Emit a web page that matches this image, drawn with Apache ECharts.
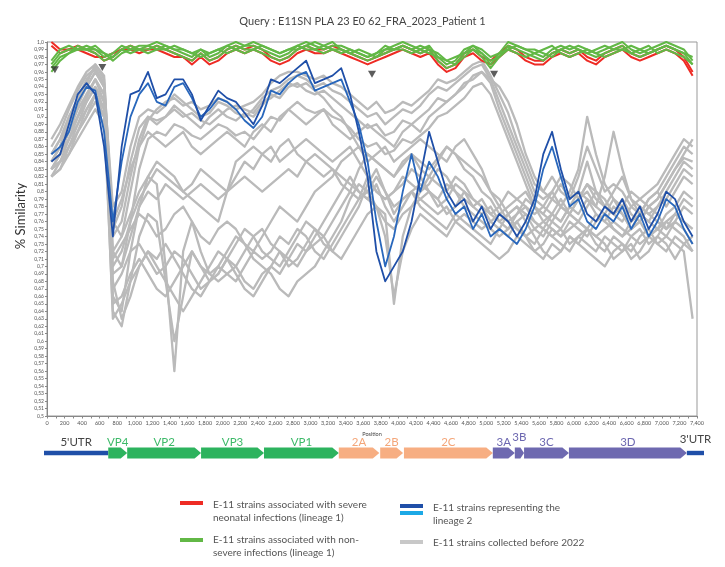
<!DOCTYPE html>
<html><head><meta charset="utf-8">
<script src="https://cdn.jsdelivr.net/npm/echarts@6/dist/echarts.min.js"></script>
<style>html,body{margin:0;padding:0;background:#fff}#c{width:725px;height:567px}</style>
</head><body><div id="c"></div>
<script>
// ---------- DATA ----------
const titleText = "Query : E11SN PLA 23 E0 62_FRA_2023_Patient 1";
const positions = [50,150,250,350,450,550,650,750,850,950,1050,1150,1250,1350,1450,1550,1650,1750,1850,1950,2050,2150,2250,2350,2450,2550,2650,2750,2850,2950,3050,3150,3250,3350,3450,3550,3650,3750,3850,3950,4050,4150,4250,4350,4450,4550,4650,4750,4850,4950,5050,5150,5250,5350,5450,5550,5650,5750,5850,5950,6050,6150,6250,6350,6450,6550,6650,6750,6850,6950,7050,7150,7250,7350];

const gray1 = [0.86,0.88,0.91,0.935,0.955,0.965,0.94,0.78,0.80,0.86,
 0.90,0.91,0.905,0.915,0.93,0.92,0.91,0.90,0.905,0.92,
 0.915,0.905,0.90,0.91,0.925,0.935,0.94,0.95,0.955,0.95,
 0.94,0.945,0.935,0.93,0.92,0.91,0.90,0.905,0.89,0.90,
 0.91,0.905,0.915,0.93,0.94,0.935,0.945,0.955,0.965,0.97,
 0.95,0.92,0.89,0.86,0.83,0.80,0.79,0.80,0.78,0.77,
 0.79,0.80,0.78,0.77,0.79,0.78,0.76,0.77,0.79,0.80,
 0.82,0.84,0.86,0.85];
const gray2 = [0.84,0.86,0.90,0.92,0.945,0.97,0.955,0.74,0.76,0.82,
 0.87,0.90,0.895,0.90,0.915,0.905,0.895,0.885,0.90,0.91,
 0.90,0.895,0.905,0.90,0.915,0.93,0.925,0.94,0.945,0.935,
 0.93,0.935,0.925,0.915,0.905,0.895,0.885,0.89,0.875,0.88,
 0.895,0.89,0.90,0.91,0.925,0.92,0.93,0.94,0.955,0.96,
 0.945,0.91,0.88,0.85,0.82,0.79,0.78,0.77,0.76,0.78,
 0.77,0.79,0.77,0.76,0.78,0.77,0.75,0.76,0.78,0.79,
 0.81,0.83,0.845,0.84];
const gray3 = [0.87,0.89,0.915,0.94,0.96,0.97,0.95,0.76,0.74,0.80,
 0.86,0.895,0.91,0.92,0.925,0.915,0.92,0.91,0.915,0.925,
 0.92,0.91,0.915,0.92,0.93,0.945,0.955,0.96,0.96,0.955,
 0.95,0.955,0.945,0.94,0.93,0.92,0.91,0.92,0.905,0.91,
 0.92,0.915,0.925,0.935,0.95,0.945,0.95,0.96,0.97,0.975,
 0.955,0.93,0.905,0.87,0.84,0.81,0.80,0.82,0.80,0.79,
 0.82,0.86,0.83,0.80,0.81,0.80,0.78,0.79,0.80,0.81,
 0.83,0.85,0.87,0.86];
const gray4 = [0.83,0.85,0.88,0.90,0.93,0.95,0.93,0.72,0.70,0.76,
 0.83,0.87,0.88,0.875,0.89,0.885,0.875,0.87,0.88,0.89,
 0.885,0.875,0.88,0.87,0.885,0.90,0.895,0.91,0.92,0.91,
 0.905,0.91,0.90,0.895,0.885,0.87,0.86,0.865,0.85,0.855,
 0.87,0.865,0.875,0.885,0.90,0.905,0.915,0.925,0.94,0.945,
 0.93,0.90,0.87,0.84,0.81,0.78,0.77,0.79,0.81,0.79,
 0.80,0.84,0.80,0.78,0.80,0.82,0.79,0.78,0.77,0.78,
 0.80,0.82,0.84,0.83];
const gray5 = [0.85,0.87,0.90,0.925,0.95,0.965,0.945,0.75,0.78,0.84,
 0.885,0.90,0.89,0.90,0.91,0.90,0.905,0.895,0.89,0.90,
 0.91,0.915,0.91,0.905,0.92,0.925,0.935,0.945,0.94,0.945,
 0.935,0.925,0.91,0.90,0.88,0.86,0.85,0.84,0.83,0.82,
 0.835,0.85,0.84,0.83,0.845,0.86,0.85,0.84,0.83,0.82,
 0.80,0.79,0.77,0.75,0.74,0.75,0.76,0.75,0.74,0.75,
 0.76,0.75,0.74,0.75,0.76,0.75,0.74,0.73,0.74,0.75,
 0.76,0.75,0.74,0.72];
const gray6 = [0.84,0.86,0.89,0.915,0.94,0.96,0.94,0.72,0.74,0.77,
 0.80,0.82,0.84,0.83,0.82,0.80,0.81,0.83,0.82,0.81,
 0.80,0.82,0.84,0.83,0.85,0.86,0.84,0.85,0.86,0.87,
 0.86,0.85,0.84,0.85,0.86,0.84,0.82,0.80,0.79,0.80,
 0.82,0.81,0.80,0.81,0.83,0.82,0.80,0.79,0.78,0.79,
 0.77,0.76,0.77,0.78,0.77,0.76,0.75,0.74,0.75,0.73,
 0.74,0.75,0.73,0.72,0.74,0.73,0.72,0.74,0.75,0.73,
 0.74,0.76,0.75,0.73];
const gray7 = [0.83,0.84,0.87,0.90,0.925,0.95,0.92,0.70,0.72,0.76,
 0.79,0.81,0.83,0.82,0.81,0.80,0.79,0.78,0.77,0.76,
 0.80,0.84,0.85,0.86,0.85,0.84,0.86,0.87,0.85,0.84,
 0.83,0.82,0.83,0.82,0.81,0.80,0.79,0.78,0.76,0.75,
 0.77,0.78,0.79,0.80,0.79,0.77,0.78,0.80,0.79,0.78,
 0.76,0.75,0.74,0.76,0.77,0.75,0.74,0.76,0.78,0.80,
 0.83,0.90,0.85,0.81,0.79,0.77,0.75,0.76,0.74,0.75,
 0.77,0.78,0.80,0.79];
const gray8 = [0.82,0.83,0.86,0.88,0.90,0.92,0.90,0.69,0.70,0.74,
 0.78,0.80,0.79,0.81,0.80,0.79,0.80,0.81,0.80,0.79,
 0.80,0.81,0.82,0.81,0.80,0.81,0.82,0.83,0.82,0.84,
 0.85,0.84,0.83,0.81,0.80,0.79,0.80,0.82,0.80,0.78,
 0.79,0.80,0.79,0.78,0.77,0.78,0.76,0.77,0.76,0.75,
 0.76,0.77,0.78,0.79,0.80,0.78,0.76,0.77,0.76,0.78,
 0.80,0.79,0.78,0.82,0.88,0.83,0.79,0.77,0.76,0.75,
 0.74,0.73,0.72,0.63];
const gray9 = [0.83,0.85,0.87,0.89,0.92,0.94,0.91,0.66,0.64,0.72,
 0.78,0.82,0.81,0.70,0.56,0.72,0.76,0.72,0.69,0.68,
 0.69,0.70,0.68,0.67,0.69,0.70,0.72,0.71,0.70,0.72,
 0.73,0.74,0.72,0.71,0.73,0.75,0.77,0.78,0.74,0.66,
 0.72,0.75,0.77,0.76,0.75,0.74,0.76,0.75,0.74,0.73,
 0.72,0.71,0.72,0.74,0.73,0.72,0.71,0.73,0.72,0.74,
 0.73,0.72,0.71,0.70,0.72,0.73,0.71,0.72,0.74,0.73,
 0.72,0.74,0.73,0.72];
const gray10 = [0.82,0.84,0.86,0.88,0.90,0.93,0.90,0.64,0.62,0.68,
 0.74,0.77,0.76,0.68,0.60,0.66,0.72,0.70,0.68,0.69,
 0.71,0.69,0.67,0.66,0.68,0.70,0.69,0.71,0.73,0.72,
 0.74,0.76,0.78,0.80,0.82,0.80,0.79,0.81,0.78,0.76,
 0.78,0.80,0.81,0.80,0.78,0.79,0.81,0.80,0.78,0.77,
 0.78,0.76,0.75,0.77,0.78,0.76,0.75,0.77,0.79,0.77,
 0.76,0.78,0.80,0.79,0.77,0.76,0.78,0.77,0.79,0.80,
 0.78,0.80,0.82,0.81];
const gray11 = [0.84,0.86,0.88,0.91,0.93,0.95,0.93,0.68,0.63,0.66,
 0.70,0.72,0.70,0.68,0.66,0.64,0.66,0.68,0.70,0.72,
 0.71,0.70,0.72,0.74,0.75,0.73,0.72,0.70,0.71,0.73,
 0.75,0.74,0.76,0.78,0.80,0.83,0.85,0.84,0.83,0.82,
 0.84,0.85,0.83,0.82,0.84,0.86,0.85,0.83,0.82,0.80,
 0.79,0.77,0.76,0.75,0.74,0.73,0.75,0.74,0.73,0.72,
 0.74,0.73,0.72,0.74,0.73,0.72,0.74,0.75,0.73,0.74,
 0.76,0.77,0.76,0.75];
const gray12 = [0.85,0.87,0.90,0.92,0.94,0.96,0.94,0.65,0.66,0.69,
 0.71,0.69,0.67,0.66,0.68,0.70,0.72,0.70,0.69,0.70,
 0.72,0.74,0.73,0.71,0.70,0.69,0.67,0.66,0.68,0.69,
 0.70,0.72,0.74,0.76,0.79,0.81,0.80,0.78,0.77,0.65,
 0.74,0.78,0.80,0.82,0.81,0.80,0.82,0.81,0.79,0.78,
 0.77,0.78,0.80,0.79,0.78,0.77,0.78,0.80,0.82,0.81,
 0.79,0.81,0.80,0.78,0.77,0.79,0.77,0.76,0.78,0.77,
 0.75,0.77,0.79,0.78];
const gray13 = [0.83,0.84,0.86,0.89,0.91,0.93,0.91,0.67,0.69,0.72,
 0.73,0.71,0.69,0.70,0.72,0.71,0.69,0.67,0.68,0.70,
 0.69,0.68,0.70,0.72,0.71,0.72,0.74,0.73,0.75,0.74,
 0.72,0.71,0.73,0.75,0.77,0.79,0.82,0.80,0.79,0.80,
 0.81,0.83,0.82,0.80,0.79,0.81,0.80,0.78,0.77,0.76,
 0.75,0.74,0.75,0.76,0.74,0.72,0.73,0.75,0.74,0.76,
 0.75,0.74,0.76,0.77,0.75,0.74,0.76,0.78,0.77,0.76,
 0.75,0.76,0.78,0.77];
const gray14 = [0.84,0.85,0.87,0.90,0.92,0.94,0.92,0.63,0.65,0.68,
 0.70,0.72,0.71,0.73,0.71,0.69,0.67,0.66,0.68,0.69,
 0.71,0.73,0.75,0.74,0.72,0.71,0.70,0.72,0.74,0.76,
 0.75,0.73,0.72,0.74,0.76,0.78,0.81,0.83,0.80,0.77,
 0.79,0.80,0.78,0.77,0.76,0.75,0.77,0.76,0.75,0.74,
 0.73,0.75,0.77,0.78,0.76,0.74,0.72,0.71,0.72,0.74,
 0.73,0.75,0.74,0.73,0.71,0.72,0.73,0.71,0.72,0.74,
 0.73,0.71,0.73,0.74];
const gray15 = [0.82,0.83,0.85,0.87,0.89,0.91,0.89,0.76,0.79,0.83,
 0.86,0.88,0.87,0.86,0.87,0.88,0.86,0.85,0.86,0.87,
 0.88,0.87,0.86,0.88,0.89,0.88,0.90,0.91,0.90,0.89,
 0.90,0.91,0.89,0.88,0.87,0.88,0.89,0.88,0.87,0.86,
 0.88,0.89,0.88,0.90,0.91,0.92,0.93,0.945,0.95,0.96,
 0.95,0.94,0.92,0.89,0.85,0.82,0.80,0.79,0.78,0.77,
 0.79,0.81,0.79,0.78,0.77,0.78,0.80,0.79,0.78,0.79,
 0.81,0.83,0.85,0.87];
const gray16 = [0.83,0.84,0.85,0.88,0.91,0.93,0.90,0.71,0.73,0.75,
 0.77,0.76,0.74,0.75,0.77,0.78,0.76,0.74,0.73,0.75,
 0.76,0.75,0.73,0.72,0.74,0.76,0.78,0.77,0.76,0.78,
 0.80,0.81,0.82,0.84,0.85,0.86,0.84,0.85,0.86,0.84,
 0.85,0.86,0.87,0.86,0.85,0.84,0.86,0.87,0.85,0.83,
 0.80,0.78,0.76,0.77,0.79,0.78,0.77,0.76,0.75,0.77,
 0.76,0.75,0.77,0.76,0.75,0.74,0.75,0.77,0.76,0.78,
 0.79,0.81,0.83,0.82];

const blue1 = [0.84,0.85,0.89,0.93,0.945,0.93,0.86,0.74,0.86,0.93,
 0.935,0.96,0.925,0.93,0.95,0.95,0.93,0.895,0.915,0.935,
 0.925,0.92,0.905,0.89,0.915,0.95,0.945,0.955,0.965,0.975,
 0.945,0.95,0.955,0.965,0.93,0.88,0.82,0.72,0.68,0.70,
 0.72,0.76,0.82,0.88,0.84,0.80,0.78,0.79,0.76,0.78,
 0.75,0.77,0.76,0.74,0.76,0.79,0.85,0.88,0.83,0.79,
 0.80,0.77,0.76,0.78,0.77,0.79,0.76,0.78,0.75,0.77,
 0.80,0.79,0.76,0.74];
const blue2 = [0.85,0.86,0.88,0.92,0.94,0.935,0.88,0.76,0.84,0.90,
 0.93,0.945,0.92,0.915,0.94,0.945,0.925,0.90,0.91,0.925,
 0.92,0.91,0.895,0.885,0.90,0.935,0.93,0.945,0.955,0.96,
 0.935,0.94,0.945,0.95,0.92,0.89,0.84,0.76,0.70,0.74,
 0.80,0.85,0.80,0.84,0.82,0.79,0.77,0.78,0.75,0.77,
 0.74,0.75,0.74,0.73,0.75,0.78,0.83,0.86,0.82,0.78,
 0.79,0.76,0.75,0.77,0.76,0.78,0.75,0.77,0.74,0.76,
 0.79,0.78,0.75,0.73];

const red1 = [1.0,0.99,0.99,0.995,0.99,0.985,0.975,0.98,0.99,0.995,
 0.99,0.99,0.995,0.99,0.985,0.98,0.975,0.985,0.975,0.98,
 0.99,0.995,0.99,0.995,0.99,0.98,0.975,0.98,0.99,0.995,
 0.99,0.99,0.995,0.99,0.985,0.98,0.975,0.98,0.985,0.99,
 0.995,0.99,0.985,0.99,0.975,0.965,0.97,0.985,0.99,0.98,
 0.975,0.985,0.995,0.99,0.98,0.975,0.975,0.985,0.99,0.985,
 0.99,0.98,0.975,0.985,0.99,0.995,0.985,0.98,0.985,0.99,
 0.995,0.99,0.98,0.96];
const red2 = [0.995,0.985,0.99,0.99,0.985,0.98,0.98,0.985,0.99,0.99,
 0.985,0.99,0.99,0.985,0.98,0.98,0.97,0.98,0.97,0.975,
 0.985,0.99,0.985,0.99,0.985,0.975,0.97,0.975,0.985,0.99,
 0.985,0.985,0.99,0.985,0.98,0.975,0.97,0.975,0.98,0.985,
 0.99,0.985,0.98,0.985,0.97,0.96,0.965,0.98,0.985,0.975,
 0.97,0.98,0.99,0.985,0.975,0.97,0.97,0.98,0.985,0.98,
 0.985,0.975,0.97,0.98,0.985,0.99,0.98,0.975,0.98,0.985,
 0.99,0.985,0.975,0.955];

const green1 = [0.97,0.985,0.99,0.99,0.995,0.99,0.98,0.985,0.995,0.99,
 0.99,0.995,1.0,0.995,0.99,0.985,0.98,0.99,0.98,0.985,
 0.995,1.0,0.995,0.995,0.99,0.985,0.98,0.985,0.995,1.0,
 0.995,0.99,0.995,0.995,0.99,0.985,0.98,0.985,0.99,0.995,
 1.0,0.995,0.99,0.995,0.98,0.97,0.975,0.99,0.995,0.985,
 0.97,0.985,1.0,0.995,0.99,0.985,0.98,0.99,0.995,0.99,
 0.995,0.99,0.985,0.99,0.995,1.0,0.99,0.985,0.99,0.995,
 1.0,0.995,0.99,0.975];
const green2 = [0.965,0.98,0.985,0.99,0.99,0.985,0.975,0.98,0.99,0.995,
 0.99,0.99,0.995,0.99,0.985,0.98,0.975,0.985,0.975,0.98,
 0.99,0.995,0.99,0.99,0.985,0.98,0.975,0.98,0.99,0.995,
 0.99,0.985,0.99,0.99,0.985,0.98,0.975,0.98,0.985,0.99,
 0.995,0.99,0.985,0.99,0.975,0.965,0.97,0.985,0.99,0.98,
 0.965,0.98,0.995,0.99,0.985,0.98,0.975,0.985,0.99,0.985,
 0.99,0.985,0.98,0.985,0.99,0.995,0.985,0.98,0.985,0.99,
 0.995,0.99,0.985,0.97];
const green3 = [0.96,0.975,0.985,0.995,0.99,0.99,0.985,0.975,0.985,0.99,
 0.995,0.995,0.99,0.99,0.995,0.99,0.985,0.98,0.985,0.99,
 0.985,0.99,0.995,1.0,0.995,0.99,0.985,0.99,0.995,0.99,
 0.99,0.995,1.0,0.99,0.985,0.99,0.985,0.98,0.99,0.99,
 0.995,0.99,0.995,0.99,0.985,0.975,0.97,0.98,0.99,0.985,
 0.975,0.98,0.99,0.995,0.99,0.99,0.985,0.98,0.99,0.995,
 0.99,0.985,0.99,0.995,0.99,0.99,0.995,0.99,0.985,0.99,
 0.995,0.99,0.985,0.98];
const green4 = [0.975,0.99,0.995,0.99,0.99,0.995,0.985,0.98,0.99,0.985,
 0.99,0.985,0.99,0.995,0.99,0.99,0.985,0.99,0.985,0.99,
 0.995,0.99,0.985,0.99,0.995,0.99,0.985,0.99,0.99,0.995,
 1.0,0.995,0.99,0.985,0.99,0.985,0.98,0.985,0.995,0.99,
 0.99,0.985,0.99,0.985,0.98,0.975,0.98,0.985,0.995,0.99,
 0.98,0.985,0.99,0.985,0.98,0.985,0.99,0.995,0.985,0.98,
 0.985,0.99,0.985,0.98,0.985,0.99,0.985,0.99,0.995,0.985,
 0.99,0.985,0.98,0.97];

// breakpoint markers (black triangles)
const markerPos = [90, 630, 3700, 5090];
const markerVal = [0.963, 0.966, 0.957, 0.957];

// genome map
const geneNames  = ["5'UTR","VP4","VP2","VP3","VP1","2A","2B","2C","3A","3B","3C","3D","3'UTR"];
const geneStart  = [0,730,945,1785,2500,3350,3820,4090,5100,5350,5455,5965,7305];
const geneEnd    = [730,945,1785,2500,3350,3810,4080,5100,5350,5455,5965,7305,7500];
const geneRegion = ["UTR","P1","P1","P1","P1","P2","P2","P2","P3","P3","P3","P3","UTR"];

// legend
const legendTexts = [
  "E-11 strains associated with severe\nneonatal infections (lineage 1)",
  "E-11 strains associated with non-\nsevere infections (lineage 1)",
  "E-11 strains representing the\nlineage 2",
  "E-11 strains collected before 2022"
];

// ---------- CHART ----------
const FONT = 'Lato';
const C_GRAY = '#BABABA', C_RED = '#EE2B24', C_GREEN = '#62B846', C_BLUE = '#1F4FA8', C_BLUE2 = '#2867BC', C_LBLUE = '#1CA9E6';
const regionFill  = {P1:'#2DB35E', P2:'#F7AE82', P3:'#6E69B0', UTR:'#1F4FA8'};
const regionLabel = {P1:'#3DBA69', P2:'#F4A679', P3:'#6C67B0', UTR:'#444'};
const labelDy = {"3B":-16, "3'UTR":-14};

function pairs(vals){ return positions.map((p,i)=>[p, vals[i]]); }
function lineSeries(name, vals, color, width){
  return {type:'line', name, data:pairs(vals), showSymbol:false, symbol:'none', silent:true,
    lineStyle:{color, width, join:'round'}, itemStyle:{color}, xAxisIndex:0, yAxisIndex:0, z:2};
}
const grays = [gray1,gray2,gray3,gray4,gray5,gray6,gray7,gray8,gray9,gray10,gray11,gray12,gray13,gray14,gray15,gray16];
const series = [];
grays.forEach((g,i)=>series.push(lineSeries('gray'+(i+1), g, C_GRAY, 2.3)));
series.push(lineSeries('blue2', blue2, C_BLUE2, 1.8));
series.push(lineSeries('blue1', blue1, C_BLUE, 1.8));
series.push(lineSeries('red2', red2, C_RED, 2));
series.push(lineSeries('red1', red1, C_RED, 2));
[green1,green2,green3,green4].forEach((g,i)=>series.push(lineSeries('green'+(i+1), g, C_GREEN, 2)));
series.push({type:'scatter', data:markerPos.map((p,i)=>[p, markerVal[i]]), symbol:'triangle', symbolRotate:180,
  symbolSize:[8,7], itemStyle:{color:'#333'}, z:5, silent:true});

series.push({type:'custom', xAxisIndex:1, yAxisIndex:1, silent:true,
  data: geneNames.map((n,i)=>[geneStart[i], geneEnd[i]]),
  renderItem(params, api){
    const i = params.dataIndex;
    const s = api.coord([api.value(0), 0.5]);
    const e = api.coord([api.value(1), 0.5]);
    const reg = geneRegion[i], name = geneNames[i];
    const cy = s[1];
    const ch = [];
    if (reg === 'UTR') {
      ch.push({type:'rect', shape:{x:s[0], y:cy-2.2, width:e[0]-s[0], height:4.4}, style:{fill:regionFill.UTR}});
    } else {
      const w = e[0]-s[0], tip = Math.min(6.5, w*0.4), h = 5.5;
      ch.push({type:'polygon', shape:{points:[[s[0],cy-h],[e[0]-tip,cy-h],[e[0],cy],[e[0]-tip,cy+h],[s[0],cy+h]]},
        style:{fill:regionFill[reg]}});
    }
    const dy = labelDy[name] !== undefined ? labelDy[name] : -11;
    ch.push({type:'text', x:(s[0]+e[0])/2, y:cy+dy, style:{text:name, fill:regionLabel[reg],
      font:'11.5px '+FONT, textAlign:'center', textVerticalAlign:'middle'}});
    return {type:'group', children:ch};
  }
});

function yFmt(v){ let s = (Math.round(v*100)/100).toString(); if (s.indexOf('.')<0) s += '.0'; return s.replace('.', ','); }
function xFmt(v){ return String(v).replace(/\B(?=(\d{3})+(?!\d))/g, ','); }

const legendG = [];
const swatch = (x,y,c)=>({type:'rect', shape:{x, y, width:23, height:4}, style:{fill:c}});
const ltext = (x,y,t,lh)=>({type:'text', x, y, style:{text:t, fill:'#555', font:'10px '+FONT, lineHeight:lh, textVerticalAlign:'top'}});
legendG.push(swatch(180,501,C_RED), ltext(213,499,legendTexts[0],12.5));
legendG.push(swatch(180,538,C_GREEN), ltext(213,534,legendTexts[1],12.5));
legendG.push(swatch(400,504,C_BLUE), swatch(400,511,C_LBLUE), ltext(433,501,legendTexts[2],13.5));
legendG.push(swatch(400,540,'#C8C8C8'), ltext(433,536,legendTexts[3],13));
legendG.push({type:'text', x:21, y:216, rotation:Math.PI/2, style:{text:'% Similarity', fill:'#333', font:'13px '+FONT,
  textAlign:'center', textVerticalAlign:'middle'}});

const option = {
  animation:false,
  backgroundColor:'#fff',
  title:{text:titleText, left:'center', top:11, textStyle:{fontFamily:FONT, fontSize:11, fontWeight:'normal', color:'#444'}},
  grid:[
    {left:47, right:28, top:42, bottom:151, show:true, borderColor:'#999', borderWidth:1},
    {left:44, right:21, top:446, height:14}
  ],
  xAxis:[
    {type:'value', gridIndex:0, min:0, max:7400, interval:200,
     name:'Position', nameLocation:'middle', nameGap:12, nameTextStyle:{fontFamily:FONT, fontSize:5.5, color:'#444'},
     axisLine:{lineStyle:{color:'#888'}}, axisTick:{length:2.5, lineStyle:{color:'#888'}},
     minorTick:{show:true, splitNumber:2, length:2.5, lineStyle:{color:'#888'}},
     splitLine:{show:false}, minorSplitLine:{show:false},
     axisLabel:{fontFamily:FONT, fontSize:5.5, color:'#555', margin:4, formatter:xFmt}},
    {type:'value', gridIndex:1, min:0, max:7500, show:false}
  ],
  yAxis:[
    {type:'value', gridIndex:0, min:0.5, max:1.0, interval:0.01,
     axisLine:{show:true, lineStyle:{color:'#888'}}, axisTick:{show:true, length:2, lineStyle:{color:'#888'}},
     splitLine:{show:false},
     axisLabel:{fontFamily:FONT, fontSize:5, color:'#555', margin:3, formatter:yFmt}},
    {type:'value', gridIndex:1, min:0, max:1, show:false}
  ],
  graphic:legendG,
  series
};
const chart = echarts.init(document.getElementById('c'), null, {renderer:'canvas'});
chart.setOption(option);
</script>
</body></html>
